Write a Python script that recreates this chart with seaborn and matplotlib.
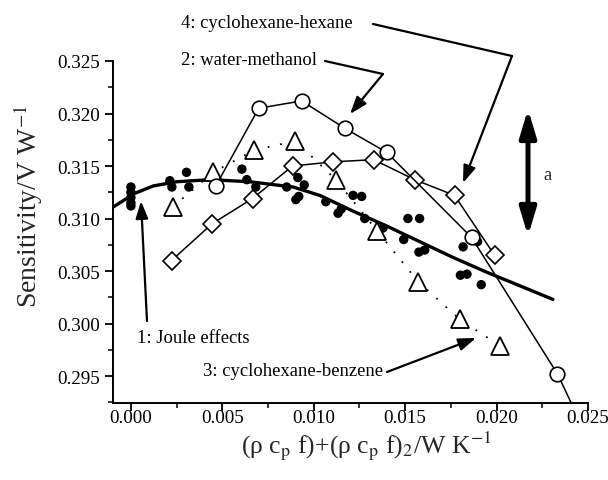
import numpy as np
import pandas as pd
import matplotlib
matplotlib.use("Agg")
import matplotlib.pyplot as plt
import seaborn as sns
from matplotlib.ticker import MultipleLocator, FormatStrFormatter

# ---- data ----
# 2: water-methanol (open circles)
wm_x = [0.00464, 0.00699, 0.00934, 0.01169, 0.01399, 0.01863, 0.02333, 0.02450]
wm_y = [0.3131, 0.3205, 0.3212, 0.3186, 0.3163, 0.3082, 0.2952, 0.2909]

# 4: cyclohexane-hexane (open diamonds)
ch_x = [0.00222, 0.00444, 0.00665, 0.00884, 0.01108, 0.01328, 0.01552, 0.01770, 0.01989]
ch_y = [0.3060, 0.3095, 0.3119, 0.3150, 0.3154, 0.3156, 0.3137, 0.3122, 0.3065]

# 3: cyclohexane-benzene (open triangles, dotted)
cb_x = [0.00228, 0.00450, 0.00674, 0.00900, 0.01120, 0.01348, 0.01570, 0.01798, 0.02016]
cb_y = [0.3111, 0.3144, 0.3165, 0.3174, 0.3137, 0.3088, 0.3040, 0.3004, 0.2979]

# 1: Joule effects (filled dots)
joule_x = [0.0, 0.0, 0.0, 0.0, 0.0,
           0.00213, 0.00224, 0.00304, 0.00317,
           0.00607, 0.00634, 0.00683,
           0.00852, 0.00913, 0.00948, 0.00902, 0.00918,
           0.01066, 0.01133, 0.01150, 0.01215, 0.01262, 0.01279,
           0.01379, 0.01492, 0.01515, 0.01579, 0.01575, 0.01607,
           0.01817, 0.01802, 0.01838, 0.01916, 0.01896]
joule_y = [0.3130, 0.3125, 0.3120, 0.3115, 0.3112,
           0.3136, 0.3130, 0.3144, 0.3130,
           0.3147, 0.3137, 0.3130,
           0.3130, 0.3139, 0.3132, 0.3118, 0.3121,
           0.3116, 0.3105, 0.3109, 0.3122, 0.3121, 0.3100,
           0.3091, 0.3080, 0.3100, 0.3100, 0.3068, 0.3070,
           0.3073, 0.3046, 0.3047, 0.3037, 0.3078]

# Joule-effect fitted curve
fit_x = [-0.00097, 0.00022, 0.00122, 0.00250, 0.00432, 0.00650, 0.00887, 0.01033,
         0.01215, 0.01397, 0.01579, 0.01761, 0.01944, 0.02126, 0.02308]
fit_y = [0.3111, 0.3124, 0.3131, 0.3135, 0.3137, 0.3135, 0.3130, 0.3122,
         0.3107, 0.3093, 0.3078, 0.3063, 0.3049, 0.3036, 0.3023]

x_ticks = [0.000, 0.005, 0.010, 0.015, 0.020, 0.025]
y_ticks = [0.295, 0.300, 0.305, 0.310, 0.315, 0.320, 0.325]

labels = ["4: cyclohexane-hexane", "2: water-methanol", "1: Joule effects",
          "3: cyclohexane-benzene", "a"]

# ---- styling ----
sns.set_style("ticks")
plt.rcParams['font.family'] = ['Liberation Serif', 'DejaVu Serif']
plt.rcParams['mathtext.fontset'] = 'stix'

W, H = 608, 481
fig = plt.figure(figsize=(W / 100, H / 100), dpi=100)
ax = fig.add_axes([113 / W, 1 - 404 / H, (588 - 113) / W, (404 - 62) / H])

# fitted curve
sns.lineplot(x=fit_x, y=fit_y, ax=ax, sort=False, estimator=None,
             color='black', lw=2.4, zorder=2)

# filled Joule data
sns.scatterplot(x=joule_x, y=joule_y, ax=ax, color='black', s=46,
                edgecolor='none', zorder=3)

# series with open markers
sns.lineplot(x=cb_x, y=cb_y, ax=ax, sort=False, estimator=None, color='black',
             lw=1.3, linestyle=(0, (1, 6)), marker='^', markersize=12.5,
             markerfacecolor='white', markeredgecolor='black',
             markeredgewidth=1.3, zorder=4)
sns.lineplot(x=ch_x, y=ch_y, ax=ax, sort=False, estimator=None, color='black',
             lw=1.1, marker='D', markersize=9.5,
             markerfacecolor='white', markeredgecolor='black',
             markeredgewidth=1.2, zorder=4)
sns.lineplot(x=wm_x, y=wm_y, ax=ax, sort=False, estimator=None, color='black',
             lw=1.1, marker='o', markersize=10.5,
             markerfacecolor='white', markeredgecolor='black',
             markeredgewidth=1.2, zorder=5)

# axes
ax.set_xlim(-0.00098, 0.025)
ax.set_ylim(0.29243, 0.325)
ax.set_xticks(x_ticks)
ax.set_yticks(y_ticks)
ax.xaxis.set_major_formatter(FormatStrFormatter('%.3f'))
ax.yaxis.set_major_formatter(FormatStrFormatter('%.3f'))
ax.xaxis.set_minor_locator(MultipleLocator(0.0025))
ax.yaxis.set_minor_locator(MultipleLocator(0.0025))
ax.tick_params(which='major', direction='out', length=6, width=1.3,
               labelsize=13.8, color='black', labelcolor='black')
ax.tick_params(axis='x', which='major', pad=-1.5)
ax.tick_params(which='minor', direction='out', length=3.5, width=1.1,
               color='black')
for s in ['top', 'right']:
    ax.spines[s].set_visible(False)
for s in ['left', 'bottom']:
    ax.spines[s].set_linewidth(1.4)
    ax.spines[s].set_color('black')

ax.set_xlabel("(ρ c$_{\\rm p}$ f)+(ρ c$_{\\rm p}$ f)$_{2}$/W K$^{-1}$",
              fontsize=18.5)
ax.set_ylabel("Sensitivity/V W$^{-1}$", fontsize=20)
ax.xaxis.set_label_coords((366 - 113) / 475, -(453 - 404) / 342)
ax.yaxis.set_label_coords(-(113 - 28) / 475, (404 - 207) / 342)
ax.xaxis.label.set_va('baseline')
ax.yaxis.label.set_va('center')


# ---- annotations (figure pixel coordinates, origin top-left of image) ----
def P(x, y):
    return (x, H - y)


def seg(p0, p1, lw=1.6):
    ax.annotate("", xy=P(*p1), xytext=P(*p0), xycoords='figure pixels',
                textcoords='figure pixels', annotation_clip=False,
                arrowprops=dict(arrowstyle='-', lw=lw, color='black',
                                shrinkA=0, shrinkB=0))


def arrow(p0, p1, lw=1.6):
    ax.annotate("", xy=P(*p1), xytext=P(*p0), xycoords='figure pixels',
                textcoords='figure pixels', annotation_clip=False,
                arrowprops=dict(arrowstyle='-|>,head_length=0.7,head_width=0.25',
                                mutation_scale=15, lw=lw, color='black',
                                shrinkA=0, shrinkB=0))


tkw = dict(xycoords='figure pixels', fontsize=13.4, va='center', ha='left',
           annotation_clip=False, color='black')
ax.annotate(labels[0], xy=P(181, 24), **tkw)
ax.annotate(labels[1], xy=P(181, 61), **tkw)
ax.annotate(labels[2], xy=P(137, 339), **tkw)
ax.annotate(labels[3], xy=P(203, 372), **tkw)
ax.annotate(labels[4], xy=P(547, 176), xycoords='figure pixels', fontsize=13.4,
            va='center', ha='center', annotation_clip=False)

seg((373, 25), (512, 57))
arrow((512, 57), (463, 184))
seg((325, 62), (383, 75))
arrow((383, 75), (350, 115))
arrow((147, 322), (141, 202))
arrow((387, 373), (476, 339))

ax.annotate("", xy=P(528, 110), xytext=P(528, 237), xycoords='figure pixels',
            textcoords='figure pixels', annotation_clip=False,
            arrowprops=dict(arrowstyle='<|-|>,head_length=1.1,head_width=0.33',
                            mutation_scale=15, lw=3.6, color='black',
                            shrinkA=0, shrinkB=0))

fig.savefig("out.png", dpi=100)
